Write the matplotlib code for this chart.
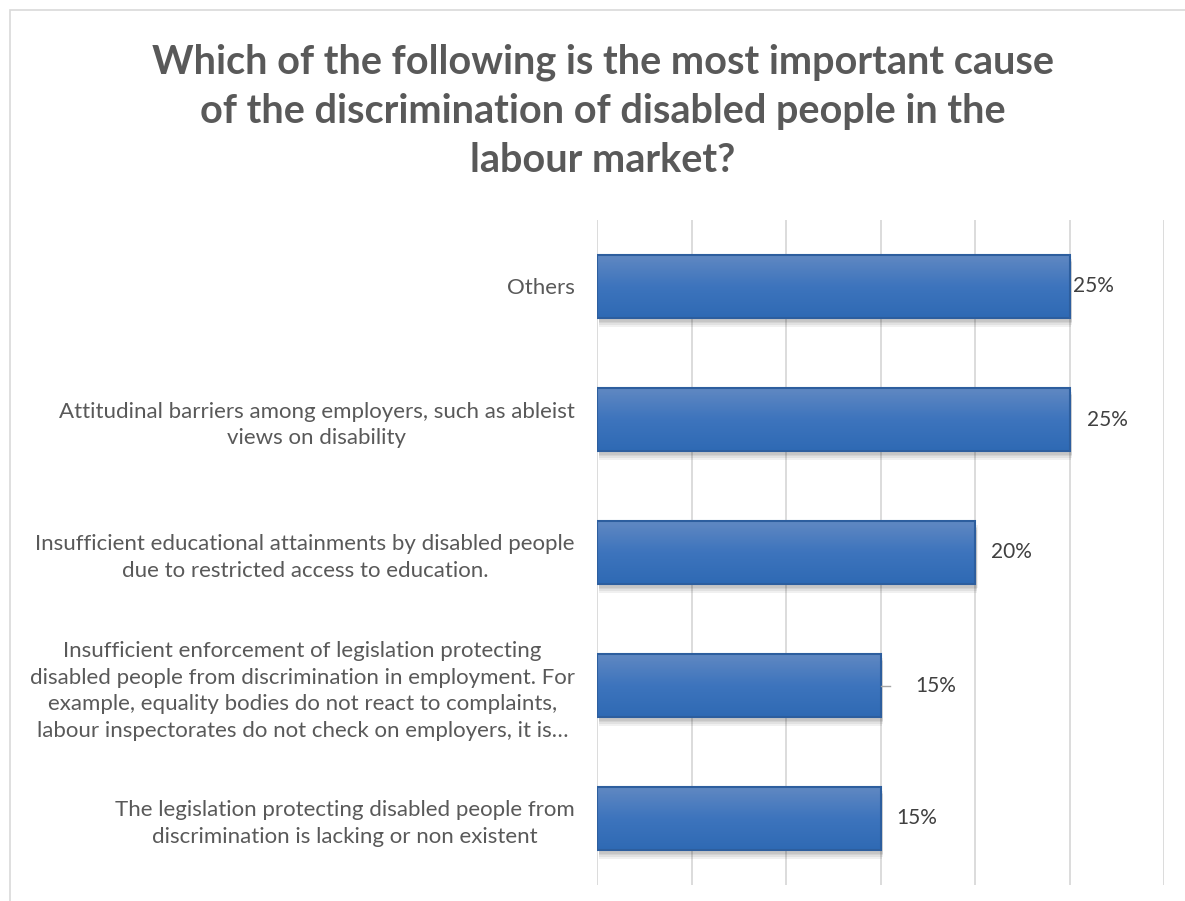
import numpy as np
import matplotlib.pyplot as plt
from matplotlib.patches import Rectangle
from matplotlib.colors import LinearSegmentedColormap

#%% Datos
categorias = [
    "Others",
    "Attitudinal barriers among employers, such as ableist\nviews on disability",
    "Insufficient educational attainments by disabled people\ndue to restricted access to education.",
    "Insufficient enforcement of legislation protecting\ndisabled people from discrimination in employment. For\nexample, equality bodies do not react to complaints,\nlabour inspectorates do not check on employers, it is\u2026",
    "The legislation protecting disabled people from\ndiscrimination is lacking or non existent",
]
valores = [25, 25, 20, 15, 15]
etiquetas = ["25%", "25%", "20%", "15%", "15%"]
titulo = "Which of the following is the most important cause\nof the discrimination of disabled people in the\nlabour market?"

plt.rcParams['font.family'] = ['Lato', 'DejaVu Sans']

fig = plt.figure(figsize=(11.85, 9.01), dpi=100)
ax = fig.add_axes([597/1185, 16/901, (1164-597)/1185, (885-220)/901])

# borde del grafico
fig.patches.append(Rectangle((10/1185, -0.01), 1.0, 891/901 + 0.01, transform=fig.transFigure,
                             fill=False, edgecolor='#d9d9d9', linewidth=1.2))

y = np.arange(len(categorias))
alto = 0.47

# gradiente para las barras
grad = np.linspace(0, 1, 100).reshape(-1, 1)
cmap = LinearSegmentedColormap.from_list('barra', ['#6088c2', '#3d74bd', '#2f6ab4'])

for yi, v in zip(y, valores):
    # sombra
    for k in range(4):
        ax.add_patch(Rectangle((0.1, yi - alto/2 + 0.03 + 0.012*k), v + 0.05 - 0.02*k, alto,
                               facecolor='black', alpha=0.06, edgecolor='none', zorder=2))
    ax.imshow(grad, cmap=cmap, aspect='auto', extent=(0, v, yi + alto/2, yi - alto/2),
              zorder=3, interpolation='bicubic')
    ax.add_patch(Rectangle((0, yi - alto/2), v, alto, fill=False,
                           edgecolor='#2d5e9e', linewidth=1.5, zorder=4))

# etiquetas de datos
offs = [0.2, 0.9, 0.85, 1.85, 0.85]
for yi, v, t, o in zip(y, valores, etiquetas, offs):
    ax.text(v + o, yi, t, va='center', ha='left', fontsize=15, color='#404040')
ax.plot([15, 15.5], [3, 3], color='#a6a6a6', linewidth=1, zorder=5)

ax.set_xlim(0, 30)
ax.set_ylim(len(categorias) - 0.5, -0.5)
ax.set_xticks(np.arange(0, 31, 5))
ax.xaxis.grid(True, color='#d9d9d9', linewidth=1.3)
ax.set_axisbelow(True)
ax.tick_params(axis='x', length=0, labelbottom=False)
ax.tick_params(axis='y', length=0, pad=16)
ax.set_yticks(y)
ax.set_yticklabels(categorias, fontsize=16, color='#595959', multialignment='center',
                   linespacing=1.42)
for s in ax.spines.values():
    s.set_visible(False)

fig.text(603/1185, 1 - 111/901, titulo, ha='center', va='center', fontsize=28.5,
         fontweight='bold', color='#595959', linespacing=1.4)

fig.savefig('out.png', dpi=100)
